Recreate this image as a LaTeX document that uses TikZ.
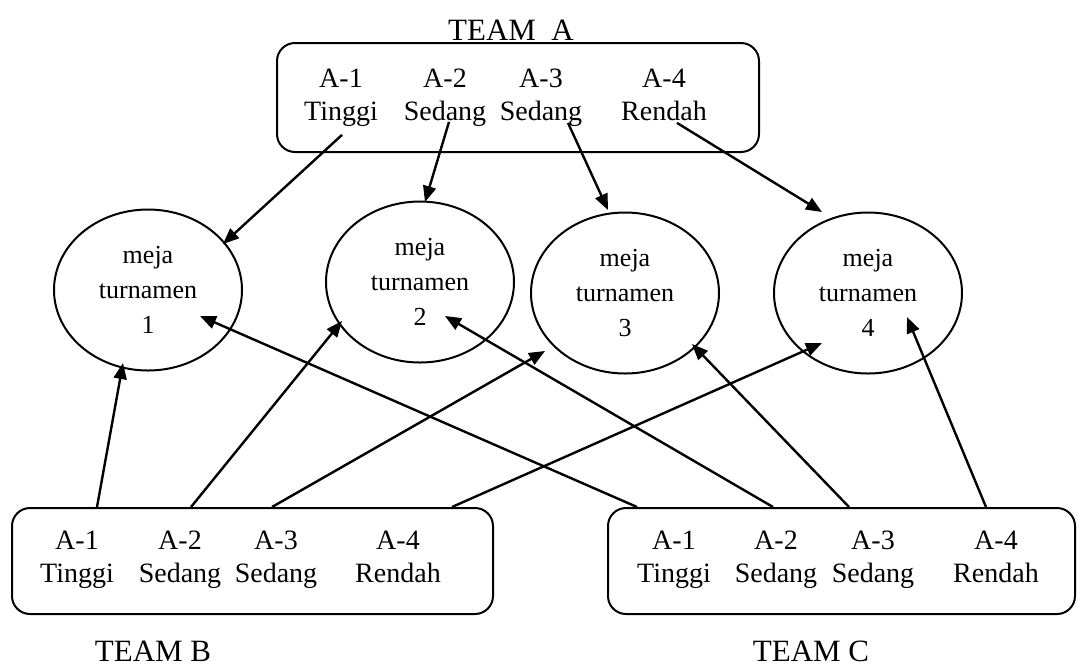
\documentclass[tikz,border=0pt]{standalone}
\usepackage{fontspec}
\setmainfont{Liberation Serif}
\usetikzlibrary{shapes.geometric,arrows.meta}

\begin{document}
\begin{tikzpicture}[x=0.5pt,y=-0.5pt,
    kotak/.style={draw,line width=1pt,rounded corners=9pt,inner sep=0pt},
    kolom/.style={align=center,inner sep=0pt,font=\fontsize{14}{16.5}\selectfont},
    meja/.style={draw,ellipse,line width=1pt,inner sep=0pt,minimum width=94pt,minimum height=80.5pt,align=center,font=\fontsize{13}{17.5}\selectfont},
    judul/.style={anchor=base,inner sep=0pt,font=\fontsize{15.5}{18}\selectfont},
    pil/.style={-{Triangle[length=8pt,width=6.5pt]},line width=1.2pt}]
        \useasboundingbox (0,0) rectangle (1077,666);
        % team A
        \node[kotak,minimum width=241pt,minimum height=54.5pt] (teamA) at (518,97.5) {};
        \node[judul] (labelA) at (511,40) {TEAM~~A};
        \node[kolom] (a1) at (341,96.9) {\strut A-1\\\strut Tinggi};
        \node[kolom] (a2) at (445,96.9) {\strut A-2\\\strut Sedang};
        \node[kolom] (a3) at (541,96.9) {\strut A-3\\\strut Sedang};
        \node[kolom] (a4) at (664,96.9) {\strut A-4\\\strut Rendah};
        % meja turnamen
        \node[meja] (m1) at (148,290) {meja\\turnamen\\1};
        \node[meja] (m2) at (420,282) {meja\\turnamen\\2};
        \node[meja] (m3) at (625,293) {meja\\turnamen\\3};
        \node[meja] (m4) at (868,293) {meja\\turnamen\\4};
        % team B
        \node[kotak,minimum width=240.5pt,minimum height=53pt] (teamB) at (252.5,561) {};
        \node[judul] (labelB) at (153,661) {TEAM B};
        \node[kolom] (b1) at (77,559.4) {\strut A-1\\\strut Tinggi};
        \node[kolom] (b2) at (180,559.4) {\strut A-2\\\strut Sedang};
        \node[kolom] (b3) at (276,559.4) {\strut A-3\\\strut Sedang};
        \node[kolom] (b4) at (398,559.4) {\strut A-4\\\strut Rendah};
        % team C
        \node[kotak,minimum width=233.5pt,minimum height=53pt] (teamC) at (841.5,561) {};
        \node[judul] (labelC) at (811,661) {TEAM C};
        \node[kolom] (c1) at (674,559.4) {\strut A-1\\\strut Tinggi};
        \node[kolom] (c2) at (776,559.4) {\strut A-2\\\strut Sedang};
        \node[kolom] (c3) at (873,559.4) {\strut A-3\\\strut Sedang};
        \node[kolom] (c4) at (996,559.4) {\strut A-4\\\strut Rendah};
        % panah dari team A
        \draw[pil] ([shift={(1,38)}]a1.center) -- ([shift={(75,-46)}]m1.center);
        \draw[pil] ([shift={(4,25)}]a2.center) -- ([shift={(5,-80)}]m2.center);
        \draw[pil] ([shift={(27,26)}]a3.center) -- ([shift={(-17,-83)}]m3.center);
        \draw[pil] ([shift={(13,26)}]a4.center) -- ([shift={(-46,-81)}]m4.center);
        % panah dari team B
        \draw[pil] ([shift={(-155.5,0)}]teamB.north) -- ([shift={(-25,73)}]m1.center);
        \draw[pil] ([shift={(-61.5,0)}]teamB.north) -- ([shift={(-78,39)}]m2.center);
        \draw[pil] ([shift={(19.5,0)}]teamB.north) -- ([shift={(-80,58)}]m3.center);
        \draw[pil] ([shift={(199.5,0)}]teamB.north) -- ([shift={(-46,50)}]m4.center);
        % panah dari team C
        \draw[pil] ([shift={(-204.5,0)}]teamC.north) -- ([shift={(52,26)}]m1.center);
        \draw[pil] ([shift={(-68.5,0)}]teamC.north) -- ([shift={(25,34)}]m2.center);
        \draw[pil] ([shift={(7.5,0)}]teamC.north) -- ([shift={(67,51)}]m3.center);
        \draw[pil] ([shift={(144.5,0)}]teamC.north) -- ([shift={(39,24)}]m4.center);
    \end{tikzpicture}
\end{document}
